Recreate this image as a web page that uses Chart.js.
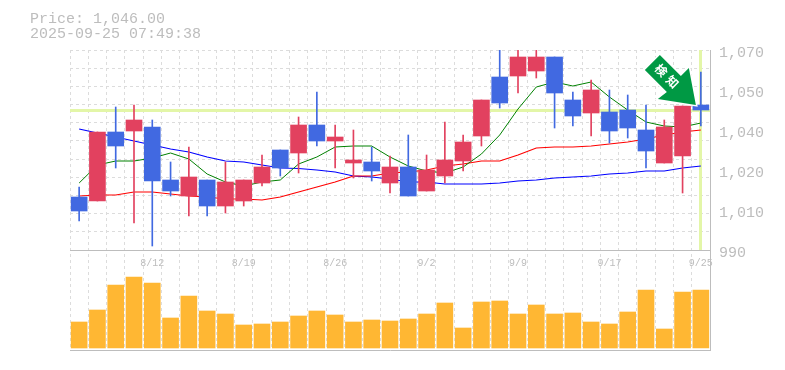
<!DOCTYPE html>
<html>
<head>
<meta charset="utf-8">
<style>
html, body { margin: 0; padding: 0; background: #fff; }
#wrap { width: 785px; height: 370px; }
</style>
<script src="https://cdn.jsdelivr.net/npm/chart.js@4"></script>
</head>
<body>
<div id="wrap"><canvas id="chart" width="785" height="370"></canvas></div>
<script>
var dates = ['8/5','8/6','8/7','8/8','8/12','8/13','8/14','8/15','8/18','8/19',
  '8/20','8/21','8/22','8/25','8/26','8/27','8/28','8/29','9/1','9/2',
  '9/3','9/4','9/5','9/8','9/9','9/10','9/11','9/12','9/16','9/17',
  '9/18','9/19','9/22','9/24','9/25'];

var opens = [1011.2,1009.6,1037.2,1037.6,1039.2,1018,1011.6,1018,1007.6,1009.6,
  1016.8,1030,1028.8,1040,1033.6,1024.8,1025.2,1016.8,1023.2,1013.6,
  1019.6,1025.6,1035.6,1059.2,1059.6,1061.6,1067.2,1050,1044.8,1045.2,
  1046,1038,1024.8,1027.6,1048];
var closes = [1005.6,1037.2,1031.6,1042,1017.6,1013.6,1019.2,1007.6,1017.2,1018,
  1023.2,1022.8,1040,1033.6,1035.2,1026,1021.6,1023.2,1011.6,1022,
  1026,1033.2,1050,1048.8,1067.2,1067.2,1052.8,1043.6,1054,1037.6,
  1038.8,1029.6,1039.2,1047.6,1046];
var highs = [1015.2,1037.2,1047.2,1048,1042,1025.2,1031.2,1018,1025.2,1018,
  1028,1030,1043.2,1053.2,1040,1038,1031.2,1027.6,1036,1028,
  1041.2,1036,1050,1070,1070,1070,1067.2,1053.2,1058,1054,
  1052,1048,1042,1047.6,1061.2];
var lows = [1001.6,1009.6,1022.8,1000.8,991.6,1011.6,1003.6,1003.6,1004.8,1007.6,
  1015.6,1019.6,1020.8,1031.6,1022.8,1018.8,1017.6,1012.8,1011.6,1013.6,
  1016.8,1021.6,1031.6,1046.8,1052.8,1058.8,1038.8,1039.6,1035.6,1032.8,
  1034.8,1022.8,1024.8,1012.8,1039.6];
var ma5 = [1016.8,1024,1025.6,1025.6,1026.8,1028.8,1026.4,1020.4,1017.2,1015.6,
  1017.2,1018,1024.4,1027.2,1031.2,1031.6,1031.6,1027.2,1023.6,1021.6,
  1020.8,1023.2,1028.4,1036,1046.4,1055.2,1057.2,1055.6,1057.2,1051.2,
  1046,1041.2,1039.6,1039.2,1040.8];
var ma25 = [1011.6,1012,1012,1013.2,1013.2,1012.4,1011.6,1011.2,1010.4,1010.4,
  1010,1011.2,1013.2,1015.2,1017.2,1019.6,1019.6,1020.8,1021.2,1022,
  1023.6,1024.4,1025.6,1025.6,1028,1030.8,1031.2,1031.2,1031.6,1032.4,
  1033.2,1034.4,1036,1037.2,1038];
var ma75 = [1038.4,1036.8,1035.2,1033.6,1032,1030.4,1029.2,1027.2,1025.6,1025.2,
  1024,1022.8,1022.6,1022,1021.2,1019.6,1019.2,1018.4,1017.2,1017.2,
  1016.4,1016.4,1016.4,1016.8,1017.6,1018,1018.8,1019.2,1019.6,1020.4,
  1020.8,1021.6,1021.6,1022.8,1023.6];
var volumes = [26,38,63,71,65,30,52,37,34,23,24,26,32,37,33,26,28,27,
  29,34,45,20,46,47,34,43,34,35,26,24,36,58,19,56,58];

var priceTicks = [1070, 1054, 1038, 1022, 1006, 990];
var lastPrice = 1046;
var priceLabel = 'Price: 1,046.00';
var timeLabel = '2025-09-25 07:49:38';
var arrowLabel = '検知';

var UP = '#e2415f';
var DOWN = '#4169e1';
var candleColors = closes.map(function(c, i) {
  return c >= opens[i] ? UP : DOWN;
});
var bodies = opens.map(function(o, i) { return [o, closes[i]]; });
var wicks = lows.map(function(l, i) { return [l, highs[i]]; });

var grey = '#bdbdbd';
var gridColor = '#dcdcdc';

function maLine(label, data, color, width, order) {
  return {
    type: 'line', label: label, data: data, yAxisID: 'y', xAxisID: 'x',
    borderColor: color, borderWidth: width, pointRadius: 0, tension: 0, order: order
  };
}

// highlight lines and header text
var extras = {
  id: 'extras',
  beforeDatasetsDraw: function(chart) {
    var ctx = chart.ctx, a = chart.chartArea;
    var py = Math.round(chart.scales.y.getPixelForValue(lastPrice));
    var px = Math.round(chart.scales.x.getPixelForValue(dates.length - 1));
    ctx.save();
    ctx.fillStyle = '#e3f6a8';
    ctx.fillRect(a.left, py - 1, a.width, 3);
    ctx.fillRect(px - 2, a.top, 3, chart.scales.y.getPixelForValue(990) - a.top);
    ctx.restore();
  },
  afterDraw: function(chart) {
    var ctx = chart.ctx;
    ctx.save();
    ctx.fillStyle = grey;
    ctx.font = '15px "Liberation Mono"';
    ctx.textBaseline = 'alphabetic';
    ctx.fillText(priceLabel, 30, 23);
    ctx.fillText(timeLabel, 30, 38);

    // arrow hangs off the last price
    var tx = chart.scales.x.getPixelForValue(dates.length - 1) - 5;
    var ty = chart.scales.y.getPixelForValue(lastPrice) - 5;
    var pts = [[-36,-50],[-51,-35],[-29,-13],[-38,-6],[0,0],[-7,-37],[-15,-29]];
    ctx.translate(tx, ty);
    ctx.beginPath();
    pts.forEach(function(p, i) {
      if (i === 0) ctx.moveTo(p[0], p[1]); else ctx.lineTo(p[0], p[1]);
    });
    ctx.closePath();
    ctx.lineJoin = 'miter';
    ctx.strokeStyle = '#fff';
    ctx.lineWidth = 3;
    ctx.stroke();
    ctx.fillStyle = '#009944';
    ctx.fill();
    ctx.translate(-29, -29);
    ctx.rotate(Math.PI / 4);
    ctx.fillStyle = '#fff';
    ctx.font = 'bold 12px "Noto Sans CJK JP"';
    ctx.letterSpacing = '4px';
    ctx.textAlign = 'center';
    ctx.textBaseline = 'middle';
    ctx.fillText(arrowLabel, 2, 0);
    ctx.restore();
  }
};

var chart = new Chart(document.getElementById('chart'), {
  data: {
    labels: dates,
    datasets: [
      { type: 'bar', label: 'body', data: bodies, backgroundColor: candleColors, barThickness: 16,
        grouped: false, yAxisID: 'y', xAxisID: 'x', order: 1 },
      { type: 'bar', label: 'wick', data: wicks, backgroundColor: candleColors, barThickness: 1,
        grouped: false, yAxisID: 'y', xAxisID: 'x', order: 2 },
      maLine('ma5', ma5, '#008000', 1, 3),
      maLine('ma25', ma25, '#ff0000', 1.2, 4),
      maLine('ma75', ma75, '#0000ff', 1.2, 5),
      { type: 'bar', label: 'volume', data: volumes, backgroundColor: '#ffb733', barThickness: 16,
        grouped: false, yAxisID: 'yv', xAxisID: 'x', order: 6 }
    ]
  },
  options: {
    responsive: false,
    animation: false,
    layout: { padding: { left: 70, top: 50, right: 0, bottom: 20 } },
    plugins: { legend: { display: false }, title: { display: false }, tooltip: { enabled: false } },
    scales: {
      x: {
        position: { y: 990 },
        offset: true,
        grid: { color: gridColor, drawTicks: false },
        border: { display: true, color: grey, dash: [3, 3] },
        ticks: {
          autoSkip: false, maxRotation: 0, padding: 7,
          color: grey, font: { family: 'Liberation Mono', size: 10 },
          callback: function(v, i) { return i % 5 === 4 ? dates[i] : ''; }
        }
      },
      x2: {
        position: 'bottom',
        grid: { display: false },
        border: { display: true, color: grey },
        ticks: { display: false },
        afterFit: function(s) { s.height = 0; }
      },
      y: {
        position: 'right',
        min: 950,
        max: 1070,
        grid: { display: false },
        border: { display: true, color: grey },
        afterBuildTicks: function(s) {
          s.ticks = priceTicks.map(function(v) { return { value: v }; });
        },
        afterFit: function(s) { s.width = 75; },
        ticks: {
          color: grey, padding: 1, labelOffset: 3,
          font: { family: 'Liberation Mono', size: 15 },
          callback: function(v) { return (Math.round(v / 10) * 10).toLocaleString('en-US'); }
        }
      },
      yGrid: {
        position: 'left',
        min: 950,
        max: 1070,
        border: { display: false, dash: [3, 3] },
        grid: { color: gridColor, drawTicks: false },
        ticks: { display: false },
        afterBuildTicks: function(s) {
          var t = [];
          for (var k = 0; k <= 11; k++) t.push({ value: 1070 - k * 80 / 11 });
          s.ticks = t;
        },
        afterFit: function(s) { s.width = 0; }
      },
      yv: {
        display: false,
        min: -2,
        max: 298
      }
    }
  },
  plugins: [extras]
});
</script>
</body>
</html>
